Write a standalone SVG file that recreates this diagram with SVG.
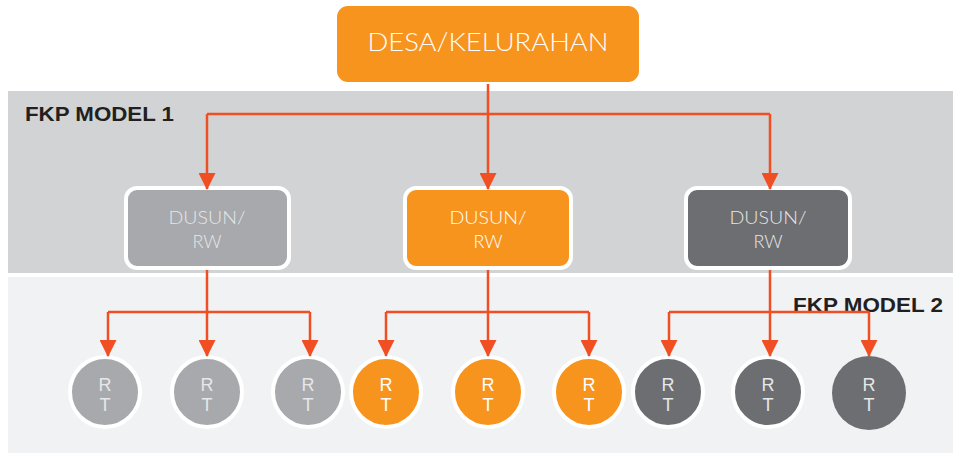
<svg xmlns="http://www.w3.org/2000/svg" width="953" height="454" viewBox="0 0 953 454">
<defs>
<style>
.band1{fill:#D1D3D4}
.band2{fill:#F1F2F4}
.title{font-family:"Liberation Sans",Arial,sans-serif;font-weight:bold;font-size:21px;fill:#231F20}
.box{stroke:#FFFFFF;stroke-width:4}
.lt{font-family:Lato,"Open Sans",sans-serif;font-weight:300;text-anchor:middle}
.rt{font-family:"Liberation Sans",Arial,sans-serif;font-size:18px;text-anchor:middle}
.orange{fill:#F7941E}
.gray{fill:#A7A9AC}
.dark{fill:#6D6E71}
.tw{fill:#FFFFFF}
.tg{fill:#E6E7E8}
.conn{fill:none;stroke:#F04E23;stroke-width:2.5}
</style>
<marker id="ah" markerUnits="userSpaceOnUse" markerWidth="17" markerHeight="17" refX="16" refY="8.5" orient="auto" viewBox="0 0 17 17">
<path d="M0,0 L17,8.5 L0,17 Z" fill="#F04E23"/>
</marker>
</defs>
<rect class="band1" x="8" y="91" width="945" height="182"/>
<rect class="band2" x="8" y="277" width="945" height="176"/>
<text class="title" x="25" y="121" textLength="149" lengthAdjust="spacingAndGlyphs">FKP MODEL 1</text>
<text class="title" x="793" y="312" textLength="150" lengthAdjust="spacingAndGlyphs">FKP MODEL 2</text>

<g id="desa">
<rect class="orange" x="337" y="6" width="302" height="76" rx="11"/>
<text class="lt tw" x="488" y="51" font-size="25" textLength="241" lengthAdjust="spacingAndGlyphs">DESA/KELURAHAN</text>
</g>

<g id="dusun1">
<rect class="box gray" x="126" y="188" width="163" height="80" rx="11"/>
<text class="lt tg" x="207" y="224" font-size="18" textLength="77" lengthAdjust="spacingAndGlyphs">DUSUN/</text>
<text class="lt tg" x="207" y="248" font-size="18">RW</text>
</g>
<g id="dusun2">
<rect class="box orange" x="405" y="188" width="166" height="80" rx="11"/>
<text class="lt tw" x="488" y="224" font-size="18" textLength="77" lengthAdjust="spacingAndGlyphs">DUSUN/</text>
<text class="lt tw" x="488" y="248" font-size="18">RW</text>
</g>
<g id="dusun3">
<rect class="box dark" x="686" y="188" width="164" height="80" rx="11"/>
<text class="lt tg" x="768" y="224" font-size="18" textLength="77" lengthAdjust="spacingAndGlyphs">DUSUN/</text>
<text class="lt tg" x="768" y="248" font-size="18">RW</text>
</g>

<g id="rt1"><circle class="box gray" cx="105" cy="392" r="35"/><text class="rt tg" x="105" y="391">R</text><text class="rt tg" x="105" y="411">T</text></g>
<g id="rt2"><circle class="box gray" cx="207" cy="392" r="35"/><text class="rt tg" x="207" y="391">R</text><text class="rt tg" x="207" y="411">T</text></g>
<g id="rt3"><circle class="box gray" cx="308" cy="392" r="35"/><text class="rt tg" x="308" y="391">R</text><text class="rt tg" x="308" y="411">T</text></g>
<g id="rt4"><circle class="box orange" cx="386" cy="392" r="35"/><text class="rt tw" x="386" y="391">R</text><text class="rt tw" x="386" y="411">T</text></g>
<g id="rt5"><circle class="box orange" cx="488" cy="392" r="35"/><text class="rt tw" x="488" y="391">R</text><text class="rt tw" x="488" y="411">T</text></g>
<g id="rt6"><circle class="box orange" cx="589" cy="392" r="35"/><text class="rt tw" x="589" y="391">R</text><text class="rt tw" x="589" y="411">T</text></g>
<g id="rt7"><circle class="box dark" cx="668" cy="392" r="35"/><text class="rt tg" x="668" y="391">R</text><text class="rt tg" x="668" y="411">T</text></g>
<g id="rt8"><circle class="box dark" cx="768" cy="392" r="35"/><text class="rt tg" x="768" y="391">R</text><text class="rt tg" x="768" y="411">T</text></g>
<g id="rt9"><circle class="dark" cx="869" cy="393" r="37"/><text class="rt tg" x="869" y="391">R</text><text class="rt tg" x="869" y="411">T</text></g>

<g id="connectors">
<path class="conn" d="M488,84 V189" marker-end="url(#ah)"/>
<path class="conn" d="M207,114 H770"/>
<path class="conn" d="M207,114 V189" marker-end="url(#ah)"/>
<path class="conn" d="M770,114 V189" marker-end="url(#ah)"/>

<path class="conn" d="M108,312 H310"/>
<path class="conn" d="M207,270 V356" marker-end="url(#ah)"/>
<path class="conn" d="M108,312 V356" marker-end="url(#ah)"/>
<path class="conn" d="M310,312 V356" marker-end="url(#ah)"/>

<path class="conn" d="M386,312 H589"/>
<path class="conn" d="M488,270 V356" marker-end="url(#ah)"/>
<path class="conn" d="M386,312 V356" marker-end="url(#ah)"/>
<path class="conn" d="M589,312 V356" marker-end="url(#ah)"/>

<path class="conn" d="M669,312 H869"/>
<path class="conn" d="M770,270 V356" marker-end="url(#ah)"/>
<path class="conn" d="M669,312 V356" marker-end="url(#ah)"/>
<path class="conn" d="M869,312 V356" marker-end="url(#ah)"/>
</g>
</svg>
